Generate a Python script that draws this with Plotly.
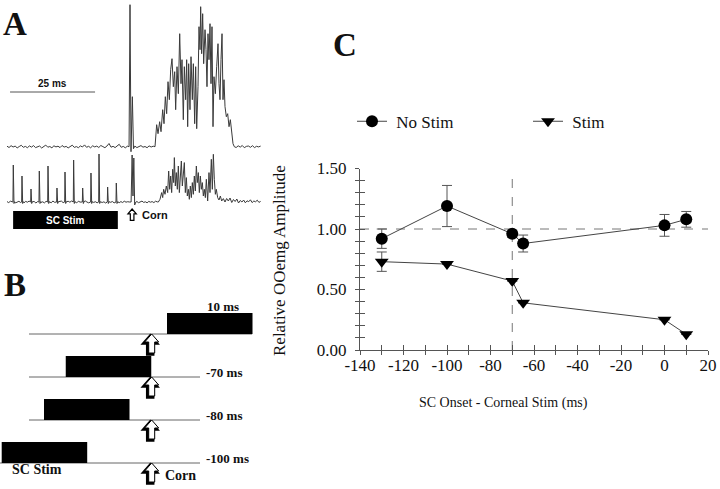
import numpy as np
import plotly.graph_objects as go

# ================= Panel C data =================
onset_ms = [-130, -100, -70, -65, 0, 10]
nostim_amp = [0.92, 1.19, 0.96, 0.88, 1.03, 1.08]
nostim_err = [0.08, 0.17, 0.03, 0.07, 0.09, 0.065]
stim_amp = [0.73, 0.71, 0.57, 0.39, 0.25, 0.13]
stim_err = [0.08, 0, 0, 0, 0, 0]
ref_amp = 1.0
ref_onset = -70
ref_onset_top = 1.46
x_ticks = [-140, -120, -100, -80, -60, -40, -20, 0, 20]
x_ticklabels = ["-140", "-120", "-100", "-80", "-60", "-40", "-20", "0", "20"]
y_ticks = [0, 0.5, 1.0, 1.5]
y_ticklabels = ["0.00", "0.50", "1.00", "1.50"]
series_names = ["No Stim", "Stim"]

# ================= Panel A data (ms, amplitude a.u.) =================
top_pre_noise = [0.5, -0.8, 1.0, -0.3, 0.6, -1.2, 0.2, 1.4, -0.6, 0.3, -1.0, 0.8, -0.4, 1.1, -0.9,
                 0.0, 0.7, -1.3, 0.4, 1.6, -0.5, 0.2, -1.1, 0.9, -0.2, 0.5, -0.9, 1.2, -0.4, 0.3,
                 -1.2, 0.6, 1.5, -0.7, 0.1, -1.0, 0.8, -0.3, 1.8, -0.6, 0.4, -1.1, 0.9, -0.2, 0.6,
                 -0.8, 1.2, 0.1, -1.0, 0.7, 3.2, -0.5, 0.4, -0.9, 1.0, 2.4, -0.6, 0.3, -1.1, 0.5]
top_art_t = [35.9, 36.18, 36.47, 36.87, 37.2, 37.45]
top_art_amp = [0, 142, -5, 50, -2, 0]
top_mid_noise = [0.6, -0.9, 0.4, 1.1, -0.5, 0.2, -1.0, 0.8, -0.3, 0.5]
top_burst_t = [43.53, 44.02, 44.42, 44.90, 45.30, 45.79, 46.18, 46.57, 46.96, 47.36, 47.75, 48.14,
               48.53, 48.92, 49.32, 49.61, 50.00, 50.39, 50.79, 51.18, 51.47, 51.86, 52.16, 52.55,
               52.84, 53.14, 53.43, 53.82, 54.12, 54.51, 54.81, 55.20, 55.49, 55.79, 56.18, 56.47,
               56.77, 56.96, 57.25, 57.55, 57.84, 58.24, 58.53, 58.82, 59.12, 59.41, 59.71, 60.00,
               60.29, 60.59, 60.88, 61.28, 61.67, 62.06, 62.35, 62.65, 62.94, 63.24, 63.53, 63.82,
               64.12, 64.51, 64.90, 65.30, 65.69, 66.08, 66.47, 66.86]
top_burst_amp = [0, 22, 13, 25, 15, 37, 23, 50, 33, 65, 47, 77, 88, 60, 75, 37, 80, 53, 113, 63,
                 87, 27, 80, 47, 87, 20, 83, 37, 90, 47, 83, 23, 80, 18, 60, 120, 97, 140, 93, 133,
                 83, 117, 97, 60, 113, 87, 123, 63, 120, 20, 70, 53, 80, 103, 63, 47, 87, 113, 47,
                 67, 40, 30, 33, 20, 27, 13, 3, 0]
top_post_noise = [-0.8, 0.9, -0.4, 1.2, -1.0, 0.3, 0.7, -0.6, 1.0, -0.9, 0.4, -0.2, 0.6]

bot_pre_noise = [0.4, -0.6, 0.8, -0.3, 0.5, -0.9, 0.2, 0.7, -0.5, 0.3,
                 -0.8, 0.6, -0.2, 0.9, -0.7, 0.1, 0.5, -1.0, 0.4, 0.8,
                 -0.4, 0.2, -0.9, 0.7, -0.1, 0.5, -0.8, 1.0, -0.3, 0.2,
                 -1.0, 0.5, 0.9, -0.6, 0.1, -0.8, 0.7, -0.2, 1.0, -0.5,
                 0.3, -0.9, 0.8, -0.1, 0.5, -0.7, 1.1, 0.0, -0.8, 0.6,
                 0.9, -0.4, 0.3, -0.8, 0.9, 0.5, -0.5, 0.2, -1.0, 0.4,
                 0.7, -0.3, 0.5, -0.9, 0.6, 0.2, -0.7, 0.4, -0.5, 0.8,
                 -0.2, 0.3, 0.0]
pulse_t = [1.85, 4.41, 7.06, 9.5, 12.06, 14.7, 17.06, 19.6, 22.26, 24.7, 27.06, 29.6, 32.15]
pulse_amp = [37, 26, 13, 31, 36, 14, 30, 42, 14, 29, 48, 15, 19]
bot_art_t = [36.5, 36.8, 37.05, 37.3, 37.55, 37.9]
bot_art_amp = [0, 47, 6, 44, -3, 0]
bot_mid_noise = [0.5, -0.7, 0.3, 0.9, -0.4, 0.2, -0.8, 0.6, -0.2, 0.4, -0.6, 0.8, 0.1]
bot_burst_t = [44.51, 45.00, 45.49, 45.79, 46.08, 46.47, 46.86, 47.26, 47.55, 47.85, 48.14, 48.43,
               48.73, 49.02, 49.22, 49.51, 49.80, 50.10, 50.39, 50.69, 50.98, 51.28, 51.57, 51.86,
               52.16, 52.45, 52.75, 53.04, 53.34, 53.63, 53.92, 54.22, 54.51, 54.81, 55.10, 55.40,
               55.69, 55.98, 56.28, 56.57, 56.87, 57.16, 57.45, 57.75, 58.04, 58.34, 58.63, 59.02,
               59.41, 59.71, 60.10, 60.39, 60.69, 60.98, 61.28, 61.57, 61.96, 62.35, 62.75, 63.14,
               63.63, 64.12]
bot_burst_amp = [0, 2.7, 9.4, 4.4, 12.7, 7.7, 16, 9.4, 31, 12.7, 26, 9.4, 32.7, 19.4, 44.4, 16,
                 29.4, 12.7, 36, 9.4, 21, 41, 16, 26, 39.4, 9.4, 24.4, 6, 12.7, 2.7, 16, 4.4, 19.4,
                 7.7, 26, 11, 36, 19.4, 29.4, 9.4, 26, 12.7, 19.4, 6, 12.7, 4.4, 22.7, 1, 29.4, 9.4,
                 42.7, 12.7, 47.7, 22.7, 7.7, 12.7, 4.4, 2, 6, 1, 3.4, 0]
bot_post_noise = [3.5, 1.0, 4.0, -0.5, 2.5, 0.5, 3.0, -1.0, 1.5, 0.0, 2.0, -0.8, 1.2, 0.3, 2.2,
                  -0.6, 1.0, 0.2, 1.8, -0.4, 0.6]
scalebar_ms = 25
a_stim_start, a_stim_end = 1.8, 32.6
a_corn_t = 36.8

# ================= Panel B data (schematic) =================
b_labels = ["10 ms", "-70 ms", "-80 ms", "-100 ms"]
b_box_start = [10.2, -57.3, -71.8, -100.0]
b_box_len = 57
b_line_start = [-81.8, -81.8, -81.8, -101.1]
b_line_end = [66.9, 32.2, 32.2, 32.2]

# ---------------- layout helpers ----------------
W, H = 720, 489
def px(x):
    return x / W
def py(y):
    return 1 - y / H

SERIF = "Liberation Serif"
SANS = "Liberation Sans"
TRACE_COL = "#3a3a3a"
AXCOL = "#555"
TXT = "#111"

def arrow_path(s, dx=0.0, dy=0.0):
    pts = [(0, 0), (-7, -8), (-3, -8), (-3, -19), (3, -19), (3, -8), (7, -8)]
    return "M" + " L".join(f"{x * s + dx:.1f},{y * s + dy:.1f}" for x, y in pts) + " Z"

fig = go.Figure()

# ---------- Panel A traces ----------
TOP_OFF, BOT_OFF = 88.3, 33.0
NOISE_DT_TOP, NOISE_DT_BOT = 0.6, 0.5

t_top = list(np.arange(len(top_pre_noise)) * NOISE_DT_TOP) + top_art_t + \
    list(37.6 + np.arange(len(top_mid_noise)) * NOISE_DT_TOP) + top_burst_t + \
    list(67.4 + np.arange(len(top_post_noise)) * NOISE_DT_TOP)
a_top = top_pre_noise + top_art_amp + top_mid_noise + top_burst_amp + top_post_noise
fig.add_trace(go.Scatter(x=t_top, y=np.array(a_top) + TOP_OFF, mode="lines",
                         line=dict(color=TRACE_COL, width=1), xaxis="x2", yaxis="y2",
                         showlegend=False, hoverinfo="skip"))

pts = [(tt, aa) for tt, aa in zip(np.arange(len(bot_pre_noise)) * NOISE_DT_BOT, bot_pre_noise)
       if not any(p - 0.2 <= tt <= p + 0.45 for p in pulse_t)]
for p, amp in zip(pulse_t, pulse_amp):
    pts += [(p - 0.1, 0.0), (p, amp), (p + 0.2, -1.5), (p + 0.4, 0.3)]
pts.sort()
t_bot = [q[0] for q in pts] + bot_art_t + \
    list(38.2 + np.arange(len(bot_mid_noise)) * NOISE_DT_BOT) + bot_burst_t + \
    list(64.6 + np.arange(len(bot_post_noise)) * NOISE_DT_BOT)
a_bot = [q[1] for q in pts] + bot_art_amp + bot_mid_noise + bot_burst_amp + bot_post_noise
fig.add_trace(go.Scatter(x=t_bot, y=np.array(a_bot) + BOT_OFF, mode="lines",
                         line=dict(color=TRACE_COL, width=1), xaxis="x2", yaxis="y2",
                         showlegend=False, hoverinfo="skip"))

SB_Y = 143
fig.add_trace(go.Scatter(x=[0.9, 0.9 + scalebar_ms], y=[SB_Y, SB_Y], mode="lines",
                         line=dict(color="#555", width=1), xaxis="x2", yaxis="y2",
                         showlegend=False, hoverinfo="skip"))
fig.add_annotation(x=0.9 + scalebar_ms / 2, y=SB_Y + 1, xref="x2", yref="y2", text=f"{scalebar_ms} ms",
                   showarrow=False, xanchor="center", yanchor="bottom",
                   font=dict(family=SANS, size=10, color=TXT, weight="bold"))
fig.add_shape(type="rect", xref="x2", yref="y2", x0=a_stim_start, x1=a_stim_end, y0=6, y1=24,
              fillcolor="black", line=dict(width=0))
fig.add_annotation(x=(a_stim_start + a_stim_end) / 2, y=15, xref="x2", yref="y2", text="SC Stim",
                   showarrow=False, xanchor="center", yanchor="middle",
                   font=dict(family=SANS, size=10, color="white", weight="bold"))
fig.add_annotation(x=a_corn_t + 2.2, y=20, xref="x2", yref="y2", text="Corn", xanchor="left",
                   yanchor="middle", showarrow=False, font=dict(family=SANS, size=11, color=TXT, weight="bold"))
fig.add_shape(type="path", xref="x2", yref="y2", xsizemode="pixel", ysizemode="pixel",
              xanchor=a_corn_t, yanchor=26, path=arrow_path(0.6),
              fillcolor="white", line=dict(color="black", width=1.2))

# ---------- Panel B ----------
for i in range(len(b_labels)):
    fig.add_trace(go.Scatter(x=[b_line_start[i], b_line_end[i]], y=[i, i], mode="lines",
                             line=dict(color="#666", width=1), xaxis="x3", yaxis="y3",
                             showlegend=False, hoverinfo="skip"))
    fig.add_shape(type="rect", xref="x3", yref="y3", x0=b_box_start[i], x1=b_box_start[i] + b_box_len,
                  y0=i - 0.49, y1=i, fillcolor="black", line=dict(width=0))
    lab_x, lab_y = (35.5, i - 0.65) if i == 0 else (34.9, i - 0.1)
    fig.add_annotation(x=lab_x, y=lab_y, xref="x3", yref="y3", text=b_labels[i], xanchor="left",
                       yanchor="middle", showarrow=False,
                       font=dict(family=SERIF, size=13, color=TXT, weight="bold"))
    fig.add_shape(type="path", xref="x3", yref="y3", xsizemode="pixel", ysizemode="pixel",
                  xanchor=0, yanchor=i, path=arrow_path(1.0, -1.5, -1.5),
                  fillcolor="black", line=dict(color="black", width=2.5))
    fig.add_shape(type="path", xref="x3", yref="y3", xsizemode="pixel", ysizemode="pixel",
                  xanchor=0, yanchor=i, path=arrow_path(1.0),
                  fillcolor="white", line=dict(color="black", width=1))
fig.add_annotation(x=-76.5, y=3.16, xref="x3", yref="y3", text="SC Stim", showarrow=False,
                   xanchor="center", yanchor="middle",
                   font=dict(family=SERIF, size=14, color=TXT, weight="bold"))
fig.add_annotation(x=7.5, y=3.28, xref="x3", yref="y3", text="Corn", showarrow=False, xanchor="left",
                   yanchor="middle", font=dict(family=SERIF, size=14, color=TXT, weight="bold"))

# ---------- Panel C ----------
fig.add_trace(go.Scatter(x=[x_ticks[0], x_ticks[-1]], y=[ref_amp, ref_amp], mode="lines",
                         line=dict(color="#777", width=1, dash="dash"), showlegend=False, hoverinfo="skip"))
fig.add_trace(go.Scatter(x=[ref_onset, ref_onset], y=[0, ref_onset_top], mode="lines",
                         line=dict(color="#777", width=1, dash="dash"), showlegend=False, hoverinfo="skip"))
fig.add_trace(go.Scatter(x=onset_ms, y=nostim_amp, name="\u00a0" + series_names[0], mode="lines+markers",
                         line=dict(color="#444", width=1),
                         marker=dict(symbol="circle", size=12, color="black"),
                         error_y=dict(type="data", array=nostim_err, color="#555", thickness=1, width=5)))
fig.add_trace(go.Scatter(x=onset_ms, y=stim_amp, name="\u00a0" + series_names[1], mode="lines+markers",
                         line=dict(color="#444", width=1),
                         marker=dict(symbol="triangle-down", size=12, color="black"),
                         error_y=dict(type="data", array=stim_err, color="#555", thickness=1, width=5)))
fig.add_trace(go.Scatter(x=[x_ticks[0]], y=[0], xaxis="x4", yaxis="y4", mode="markers",
                         marker=dict(opacity=0), showlegend=False, hoverinfo="skip"))

XDOM = [px(360), px(708)]
YDOM = [py(350), py(168.5)]
tickfont = dict(family=SERIF, size=17, color=TXT)
common_ax = dict(showgrid=False, zeroline=False, automargin=False, tickcolor=AXCOL)

fig.update_layout(
    template="none",
    width=W, height=H, margin=dict(l=0, r=0, t=0, b=0, pad=0, autoexpand=False),
    paper_bgcolor="white", plot_bgcolor="white",
    xaxis=dict(domain=XDOM, range=[x_ticks[0], x_ticks[-1]], tickvals=x_ticks, ticktext=x_ticklabels,
               ticks="inside", ticklen=5, showline=True, linecolor=AXCOL, linewidth=1,
               tickfont=tickfont, anchor="y", ticklabelstandoff=0,
               minor=dict(dtick=10, ticks="inside", ticklen=5, tickcolor=AXCOL, showgrid=False),
               **common_ax),
    yaxis=dict(domain=YDOM, range=[0, 1.5], tickvals=y_ticks, ticktext=y_ticklabels,
               ticks="inside", ticklen=5, showline=True, linecolor=AXCOL, linewidth=1,
               tickfont=tickfont, anchor="x", ticklabelstandoff=9,
               minor=dict(dtick=0.1, ticks="inside", ticklen=5, tickcolor=AXCOL, showgrid=False),
               **common_ax),
    xaxis4=dict(overlaying="x", range=[x_ticks[0], x_ticks[-1]], tickvals=x_ticks, ticks="outside",
                ticklen=4, showticklabels=False, showline=False, anchor="y4",
                minor=dict(dtick=10, ticks="outside", ticklen=4, tickcolor=AXCOL, showgrid=False),
                **common_ax),
    yaxis4=dict(overlaying="y", range=[0, 1.5], tickvals=y_ticks, ticks="outside",
                ticklen=4, showticklabels=False, showline=False, anchor="x4",
                minor=dict(dtick=0.1, ticks="outside", ticklen=4, tickcolor=AXCOL, showgrid=False),
                **common_ax),
    xaxis2=dict(domain=[0, px(270)], range=[-7 / 3.4, 263 / 3.4], visible=False, anchor="y2"),
    yaxis2=dict(domain=[py(235), 1], range=[0, 235], visible=False, anchor="x2"),
    xaxis3=dict(domain=[0, px(260)], range=[-151.7 / 1.5, (260 - 151.7) / 1.5], visible=False, anchor="y3"),
    yaxis3=dict(domain=[0, py(290)], range=[3 + 26 / 43, -44 / 43], visible=False, anchor="x3"),
    showlegend=True,
    legend=dict(orientation="h", x=px(352), y=py(121.7), xanchor="left", yanchor="middle",
                font=dict(family=SERIF, size=17, color=TXT), bgcolor="rgba(0,0,0,0)",
                entrywidth=131, entrywidthmode="pixels"),
)

for letter, (lx, ly) in {"A": (15, 24), "B": (15, 285), "C": (345, 45)}.items():
    fig.add_annotation(x=px(lx), y=py(ly), xref="paper", yref="paper", text=letter, showarrow=False,
                       xanchor="center", yanchor="middle",
                       font=dict(family=SERIF, size=33, color=TXT, weight="bold"))
fig.add_annotation(x=px(279), y=py(261), xref="paper", yref="paper", text="Relative OOemg Amplitude",
                   textangle=-90, showarrow=False, xanchor="center", yanchor="middle",
                   font=dict(family=SERIF, size=17, color=TXT))
fig.add_annotation(x=px(504), y=py(403), xref="paper", yref="paper", text="SC Onset - Corneal Stim (ms)",
                   showarrow=False, xanchor="center", yanchor="middle",
                   font=dict(family=SERIF, size=14, color=TXT))

fig.write_html("out.html", config={"displayModeBar": False},
               post_script="document.body.style.margin='0px';")
